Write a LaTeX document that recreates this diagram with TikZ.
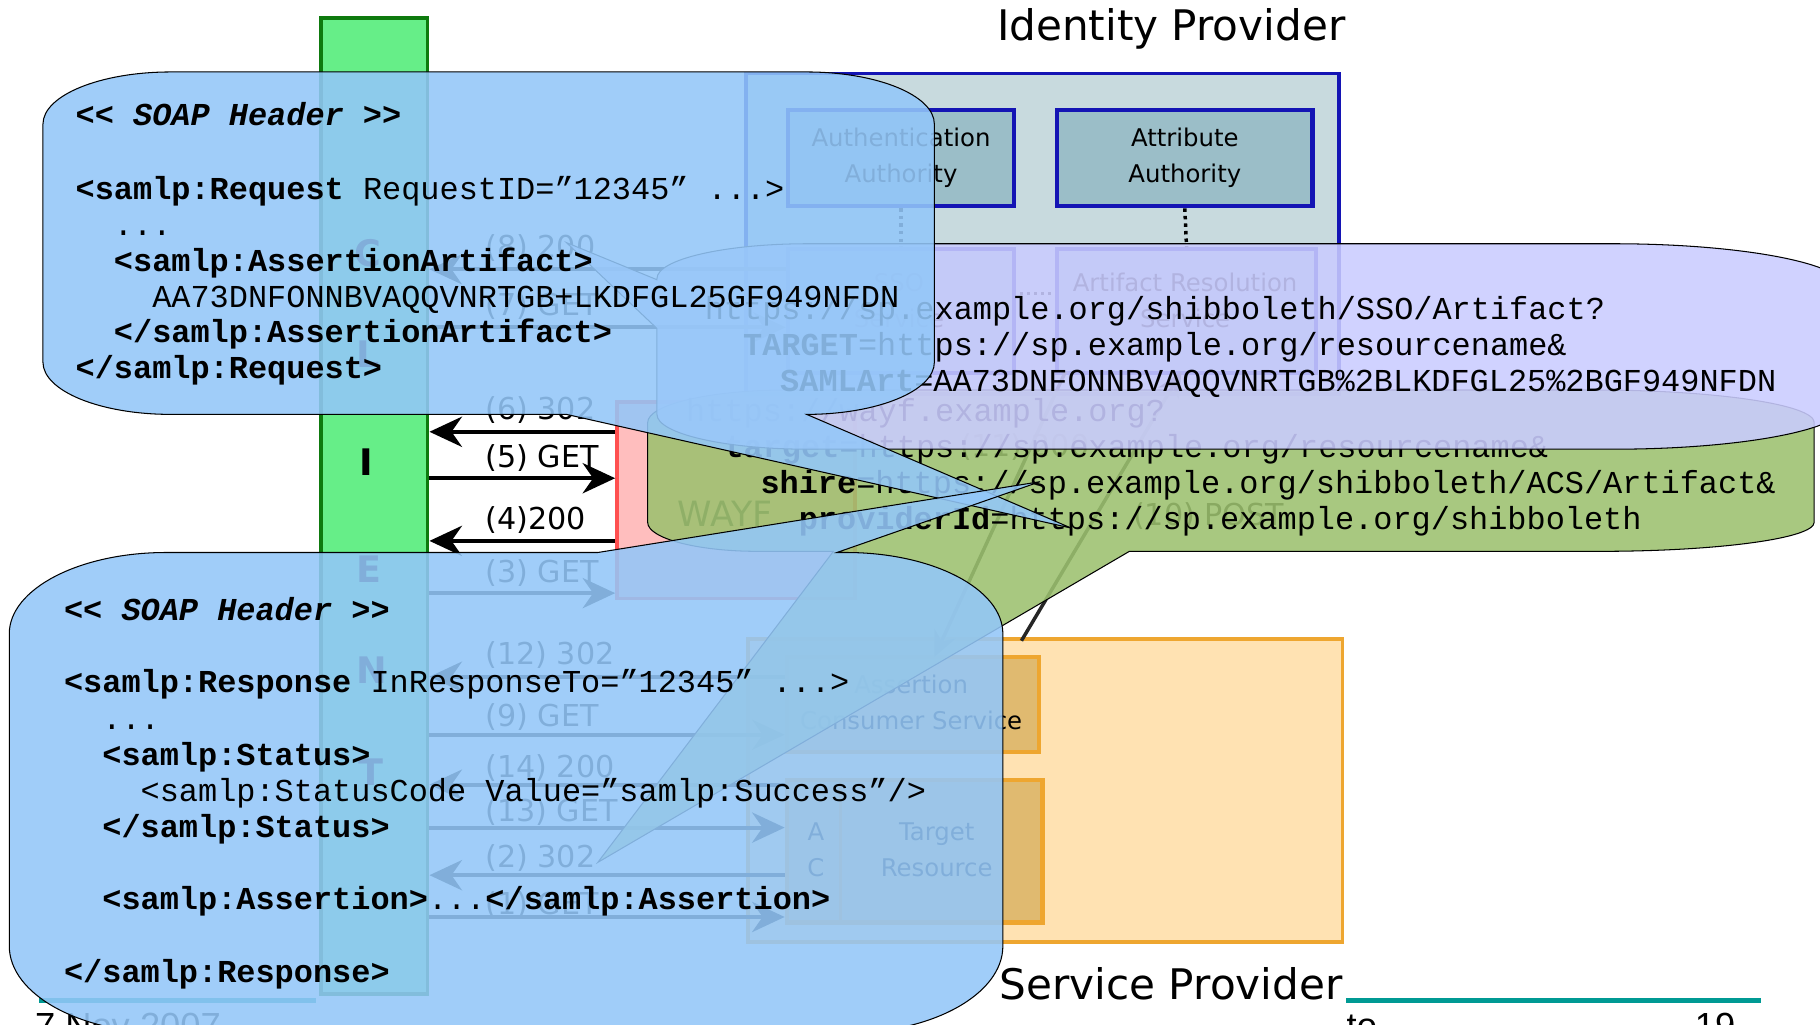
\documentclass[tikz,border=0pt]{standalone}
\usepackage{fontspec}
\setmainfont{DejaVu Sans}
\newfontfamily\mono{Liberation Mono}[Ligatures=TeXOff]
\newfontfamily\footfont{Liberation Sans}
\usetikzlibrary{arrows.meta}
\definecolor{cblue}{HTML}{93C7F9}
\definecolor{cpurp}{HTML}{CACCFF}
\definecolor{cgreen}{HTML}{9CC16F}
\definecolor{idpfill}{HTML}{C8DADE}
\definecolor{idpin}{HTML}{9BBEC8}
\definecolor{idpline}{HTML}{1414B4}
\definecolor{spfill}{HTML}{FFE2B2}
\definecolor{spin}{HTML}{E0BA70}
\definecolor{spline}{HTML}{EEA630}
\definecolor{wayffill}{HTML}{FFBEBE}
\definecolor{wayfline}{HTML}{FF5050}
\definecolor{cligreen}{HTML}{66EE88}
\definecolor{clidark}{HTML}{0E7A0E}
\definecolor{tealline}{HTML}{009A94}
\tikzset{
  callout/.style={draw=black, line width=0.9pt, fill opacity=0.88},
  mt/.style={inner sep=0pt, anchor=base west, font=\mono\fontsize{27.5}{31}\selectfont},
  lbl/.style={inner sep=0pt, anchor=base west, font=\fontsize{26}{30}\selectfont},
  cli/.style={inner sep=0pt, font=\bfseries\fontsize{31.5}{34}\selectfont},
  boxtxt/.style={inner sep=0pt, align=center, font=\fontsize{21}{31}\selectfont},
  title/.style={inner sep=0pt, anchor=base, font=\fontsize{36.3}{40}\selectfont},
  foot/.style={inner sep=0pt, font=\footfont\fontsize{31.3}{34}\selectfont},
  idpbox/.style={draw=idpline, line width=3.5pt, fill=idpin, inner sep=0pt, anchor=north west},
  spbox/.style={draw=spline, line width=4pt, fill=spin, inner sep=0pt, anchor=north west},
  arr/.style={line width=3.5pt, -{Stealth[length=28pt,width=26pt,inset=9pt]}},
  darr/.style={line width=3pt, draw=black!85, -{Stealth[length=22pt,width=20pt,inset=7pt]}},
  dotline/.style={line width=3pt, dash pattern=on 3pt off 3.5pt},
}
\begin{document}
\begin{tikzpicture}[x=1pt,y=-1pt]
\useasboundingbox (0,0) rectangle (1568,883);
\clip (0,0) rectangle (1568,883);
\fill[white] (0,0) rectangle (1568,883);

% ---------------- background diagram ----------------
\node[draw=clidark, line width=3pt, fill=cligreen, minimum width=92pt, minimum height=841pt, inner sep=0pt, anchor=north west] (client) at (275,14) {};
\node[cli] (cC) at (317,218) {C};
\node[cli] (cL) at (317,305) {L};
\node[cli] (cI) at (316,398) {I};
\node[cli] (cE) at (318,490) {E};
\node[cli] (cN) at (320,577) {N};
\node[cli] (cT) at (320,665) {T};

\node[title] (idpt) at (1009,35) {Identity Provider};
\node[draw=idpline, line width=3pt, fill=idpfill, anchor=north west, minimum width=511pt, minimum height=276pt, inner sep=0pt] (idp) at (641,62) {};
\node[idpbox, minimum width=195pt, minimum height=83pt] (authn) at (677,93) {};
\node[boxtxt] (authnt) at (authn.center) {Authentication\\Authority};
\node[idpbox, minimum width=220pt, minimum height=83pt] (attr) at (909,93) {};
\node[boxtxt] (attrt) at (attr.center) {Attribute\\Authority};
\node[idpbox, minimum width=195pt, minimum height=107pt] (sso) at (677,213) {};
\node[boxtxt] (ssot) at (774.5,259) {SSO\\Service};
\node[idpbox, minimum width=223pt, minimum height=107pt] (art) at (909,213) {};
\node[boxtxt] (artt) at (1021,259) {Artifact Resolution\\Service};
\draw[dotline] (authn.south) -- (sso.north);
\draw[dotline] (attr.south) -- (art.north);
\coordinate (d1) at (879,253);
\coordinate (d2) at (906,253);
\draw[line width=2.5pt, dash pattern=on 2.5pt off 3.5pt] (d1) -- (d2);

\node[draw=wayfline, line width=3pt, fill=wayffill, anchor=north west, minimum width=205pt, minimum height=169pt, inner sep=0pt] (wayf) at (530,345) {};
\node[inner sep=0pt, font=\fontsize{30}{30}\selectfont, text=black!80] (wayft) at (625,443) {WAYF};

\node[draw=spline, line width=3pt, fill=spfill, anchor=north west, minimum width=512pt, minimum height=261pt, inner sep=0pt] (sp) at (643,549) {};
\node[spbox, minimum width=217pt, minimum height=82pt] (acs) at (676,564) {};
\node[boxtxt] (acst) at (785,605.5) {Assertion\\Consumer Service};
\node[spbox, minimum width=220pt, minimum height=123pt] (tgt) at (676,670) {};
\coordinate (tv1) at (724,670);
\coordinate (tv2) at (724,793);
\draw[spline, line width=3pt] (tv1) -- (tv2);
\node[boxtxt] (tac) at (703,732) {A\\C};
\node[boxtxt] (tgtt) at (807,732) {Target\\Resource};
\node[title] (spt) at (1009,861) {Service Provider};

% arrows client <-> servers
\draw[arr] (sso.west |- 0,232) -- (client.east |- 0,232);
\draw[arr] (client.east |- 0,282) -- (sso.west |- 0,282);
\draw[arr] (wayf.west |- 0,372) -- (client.east |- 0,372);
\draw[arr] (client.east |- 0,412) -- (wayf.west |- 0,412);
\draw[arr] (wayf.west |- 0,466) -- (client.east |- 0,466);
\draw[arr] (client.east |- 0,511) -- (wayf.west |- 0,511);
\draw[arr] (acs.west |- 0,583) -- (client.east |- 0,583);
\draw[arr] (client.east |- 0,633) -- (acs.west |- 0,633);
\draw[arr] (tgt.west |- 0,676) -- (client.east |- 0,676);
\draw[arr] (client.east |- 0,713) -- (tgt.west |- 0,713);
\draw[arr] (tgt.west |- 0,754) -- (client.east |- 0,754);
\draw[arr] (client.east |- 0,790) -- (tgt.west |- 0,790);

\node[lbl] (l8) at (418,221.5) {(8) 200};
\node[lbl] (l7) at (418,272) {(7) GET};
\node[lbl] (l6) at (418,361.5) {(6) 302};
\node[lbl] (l5) at (418,402.5) {(5) GET};
\node[lbl] (l4) at (418,456.5) {(4)200};
\node[lbl] (l3) at (418,501.5) {(3) GET};
\node[lbl] (l12) at (418,572.5) {(12) 302};
\node[lbl] (l9) at (418,625.5) {(9) GET};
\node[lbl] (l14) at (418,669.5) {(14) 200};
\node[lbl] (l13) at (418,707.5) {(13) GET};
\node[lbl] (l2) at (418,747.5) {(2) 302};
\node[lbl] (l1) at (418,787.5) {(1) GET};

% back-channel arrows
\coordinate (la1) at (918,320);
\coordinate (la2) at (805,566);
\coordinate (lb1) at (880,552);
\coordinate (lb2) at (1018,320);
\draw[darr] (la1) -- (la2);
\draw[darr] (lb1) -- (lb2);
\node[lbl] (l10) at (976,452.5) {(10) POST};
\node[lbl] (l11) at (827,393.5) {(11) 200};

% footer
\coordinate (f1) at (34,862);
\coordinate (f2) at (272,862);
\coordinate (f3) at (1160,862);
\coordinate (f4) at (1517,862);
\draw[tealline, line width=4pt] (f1) -- (f2);
\draw[tealline, line width=4pt] (f3) -- (f4);
\node[foot, anchor=north west] (date) at (30,873) {7 Nov 2007};
\node[foot, anchor=base west] (to) at (1160,895) {to};
\node[foot, anchor=base west] (pg) at (1460,895) {19};

% ---------------- green callout (WAYF redirect) ----------------
\path[callout, fill=cgreen] (678,336) -- (1373,336)
  arc[start angle=-90, end angle=0, x radius=190, y radius=28] -- (1563,450)
  arc[start angle=0, end angle=90, x radius=185, y radius=25] -- (973,475)
  -- (515,743) -- (718,475) -- (653,475)
  arc[start angle=90, end angle=180, x radius=95, y radius=25] -- (558,364)
  arc[start angle=180, end angle=270, x radius=120, y radius=28] -- cycle;
\node[mt] (g1) at (591,363.5) {https://wayf.example.org?};
\node[mt] (g2) at (624,394.5) {{\bfseries target}=https://sp.example.org/resourcename\&};
\node[mt] (g3) at (655,425.5) {{\bfseries shire}=https://sp.example.org/shibboleth/ACS/Artifact\&};
\node[mt] (g4) at (688,456.5) {{\bfseries providerId}=https://sp.example.org/shibboleth};

% ---------------- purple callout (artifact redirect) ----------------
\path[callout, fill=cpurp] (696,210) -- (1390,210)
  arc[start angle=-90, end angle=0, x radius=200, y radius=38] -- (1590,349)
  arc[start angle=0, end angle=90, x radius=200, y radius=38] -- (696,387)
  arc[start angle=90, end angle=180, x radius=130, y radius=30] -- (566,283)
  -- (488,209) -- (566,241) -- (566,240)
  arc[start angle=180, end angle=270, x radius=130, y radius=30] -- cycle;
\node[mt] (p1) at (607,275.5) {https://sp.example.org/shibboleth/SSO/Artifact?};
\node[mt] (p2) at (640,306.5) {{\bfseries TARGET}=https://sp.example.org/resourcename\&};
\node[mt] (p3) at (672,337.5) {{\bfseries SAMLArt}=AA73DNFONNBVAQQVNRTGB\%2BLKDFGL25\%2BGF949NFDN};

% ---------------- blue callout A (SOAP request) ----------------
\path[callout, fill=cblue] (147,62) -- (695,62)
  arc[start angle=-90, end angle=0, x radius=110, y radius=45] -- (805,312)
  arc[start angle=0, end angle=90, x radius=110, y radius=45]
  -- (923,455) -- (488,357) -- (147,357)
  arc[start angle=90, end angle=180, x radius=110, y radius=45] -- (37,107)
  arc[start angle=180, end angle=270, x radius=110, y radius=45] -- cycle;
\node[mt] (a1) at (65,108.5) {\bfseries\itshape << SOAP Header >>};
\node[mt] (a2) at (65,171.5) {{\bfseries <samlp:Request} RequestID=”12345” ...>};
\node[mt] (a3) at (98,202.5) {...};
\node[mt] (a4) at (98,233.5) {\bfseries <samlp:AssertionArtifact>};
\node[mt] (a5) at (131,264.5) {AA73DNFONNBVAQQVNRTGB+LKDFGL25GF949NFDN};
\node[mt] (a6) at (98,295.5) {\bfseries </samlp:AssertionArtifact>};
\node[mt] (a7) at (65,326.5) {\bfseries </samlp:Request>};

% ---------------- blue callout B (SOAP response) ----------------
\path[callout, fill=cblue] (143,476) -- (515,476) -- (896,415) -- (721,476) -- (729,476)
  arc[start angle=-90, end angle=0, x radius=135, y radius=70] -- (864,815)
  arc[start angle=0, end angle=90, x radius=135, y radius=75] -- (143,890)
  arc[start angle=90, end angle=180, x radius=135, y radius=75] -- (8,546)
  arc[start angle=180, end angle=270, x radius=135, y radius=70] -- cycle;
\node[mt] (b1) at (55,534.5) {\bfseries\itshape << SOAP Header >>};
\node[mt] (b2) at (55,596.5) {{\bfseries <samlp:Response} InResponseTo=”12345” ...>};
\node[mt] (b3) at (88,628.5) {...};
\node[mt] (b4) at (88,659.5) {\bfseries <samlp:Status>};
\node[mt] (b5) at (121,690.5) {<samlp:StatusCode Value=”samlp:Success”/>};
\node[mt] (b6) at (88,721.5) {\bfseries </samlp:Status>};
\node[mt] (b7) at (88,783.5) {{\bfseries <samlp:Assertion>}...{\bfseries </samlp:Assertion>}};
\node[mt] (b8) at (55,846.5) {\bfseries </samlp:Response>};
\end{tikzpicture}
\end{document}
